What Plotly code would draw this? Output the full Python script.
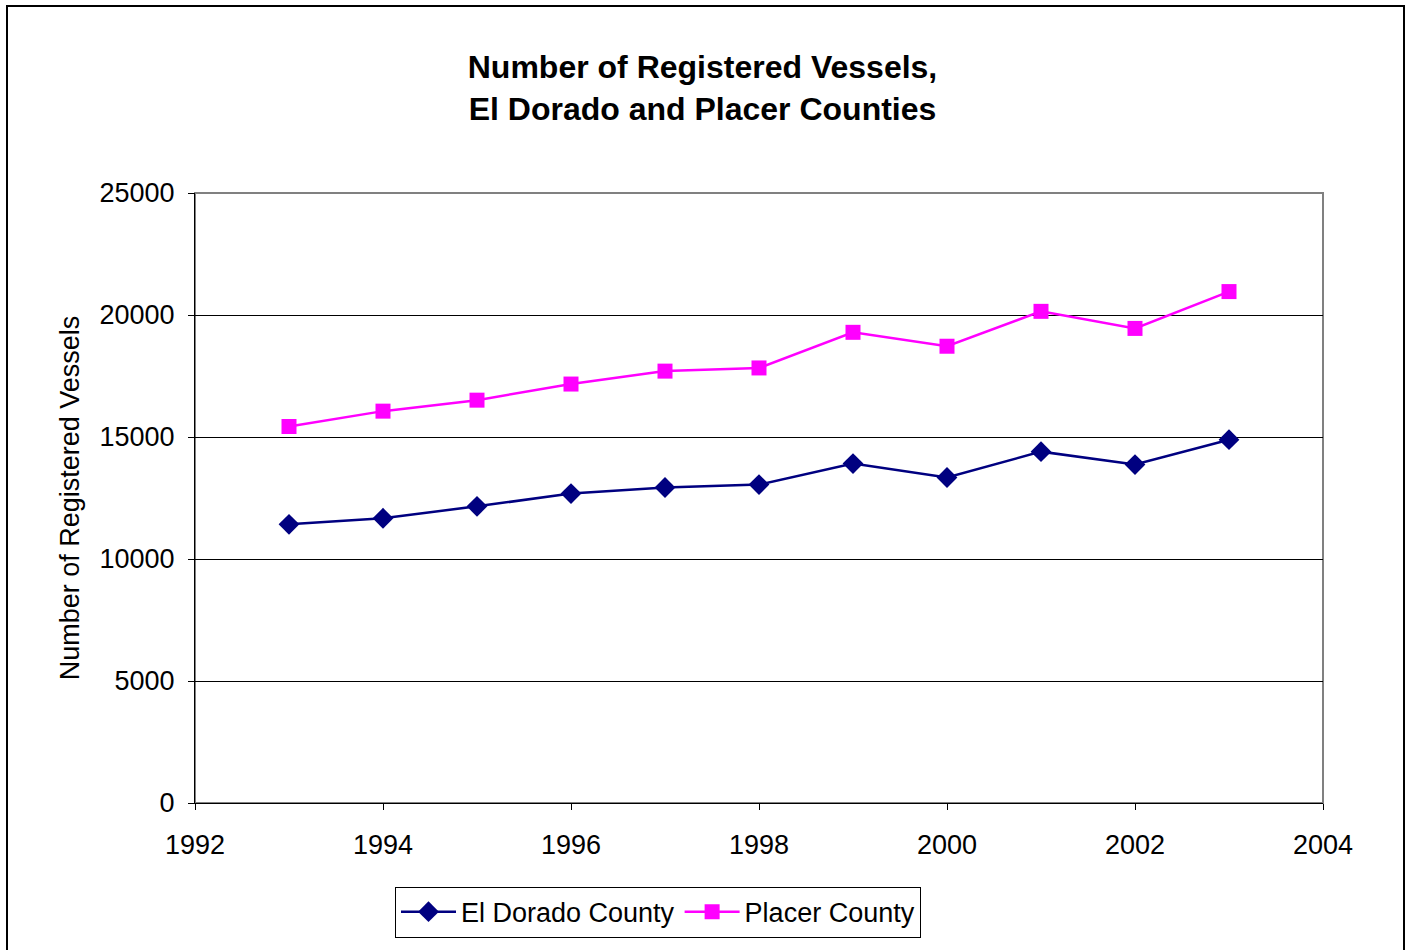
import plotly.graph_objects as go

years = [1993, 1994, 1995, 1996, 1997, 1998, 1999, 2000, 2001, 2002, 2003]
el_dorado = [11420, 11670, 12160, 12680, 12930, 13050, 13910, 13340, 14400, 13870, 14890]
placer = [15430, 16060, 16510, 17170, 17700, 17830, 19290, 18720, 20150, 19450, 20960]

x_ticks = [1992, 1994, 1996, 1998, 2000, 2002, 2004]
y_ticks = [0, 5000, 10000, 15000, 20000, 25000]

FONT = "Liberation Sans, Arial, sans-serif"
FS = 27

fig = go.Figure()
fig.add_trace(go.Scatter(
    x=years, y=el_dorado, name="El Dorado County", mode="lines+markers",
    line=dict(color="#000080", width=2.5),
    marker=dict(symbol="diamond", size=16, color="#000080"),
))
fig.add_trace(go.Scatter(
    x=years, y=placer, name="Placer County", mode="lines+markers",
    line=dict(color="#FF00FF", width=2.5),
    marker=dict(symbol="square", size=15, color="#FF00FF"),
))

L, R, T, B = 195, 82, 193, 144
W, H = 1405, 950
pw, ph = W - L - R, H - T - B

def px_x(x):
    return (x - L) / pw

def px_y(y):
    return (H - B - y) / ph

fig.update_layout(
    width=W, height=H,
    margin=dict(l=L, r=R, t=T, b=B, pad=0),
    paper_bgcolor="white", plot_bgcolor="white",
    font=dict(family=FONT, size=FS, color="black"),
    title=dict(
        text="<b>Number of Registered Vessels,<br>El Dorado and Placer Counties</b>",
        x=0.5, xanchor="center", xref="container",
        y=1 - 78 / H, yanchor="middle", yref="container",
        font=dict(family=FONT, size=32, color="black"),
    ),
    showlegend=True,
    legend=dict(
        orientation="h", x=px_x(395), xanchor="left", y=px_y(890), yanchor="top",
        bordercolor="black", borderwidth=1, bgcolor="white",
        font=dict(family=FONT, size=FS, color="black"),
        itemwidth=55, tracegroupgap=0,
    ),
    shapes=[
        dict(type="rect", xref="paper", yref="paper", x0=0, x1=1, y0=0, y1=1,
             line=dict(color="#808080", width=2), layer="below"),
        dict(type="rect", xref="paper", yref="paper",
             x0=px_x(7), x1=px_x(1404), y0=px_y(5), y1=px_y(960),
             line=dict(color="black", width=2), layer="below"),
    ],
)

fig.update_xaxes(
    range=[1992, 2004], tickmode="array", tickvals=x_ticks,
    ticktext=[str(v) for v in x_ticks],
    showgrid=False, zeroline=False,
    showline=True, linecolor="black", linewidth=1,
    ticks="outside", ticklen=6, tickcolor="black", tickwidth=1,
    tickfont=dict(family=FONT, size=FS, color="black"),
    ticklabelstandoff=12,
)
fig.update_yaxes(
    range=[0, 25000], tickmode="array", tickvals=y_ticks,
    ticktext=[str(v) for v in y_ticks],
    showgrid=True, gridcolor="black", gridwidth=1,
    zeroline=False,
    showline=True, linecolor="black", linewidth=1,
    ticks="outside", ticklen=6, tickcolor="black", tickwidth=1,
    tickfont=dict(family=FONT, size=FS, color="black"),
    ticklabelstandoff=8,
    title=dict(text="Number of Registered Vessels", standoff=12,
               font=dict(family=FONT, size=FS, color="black")),
)

fig.write_html("out.html")
